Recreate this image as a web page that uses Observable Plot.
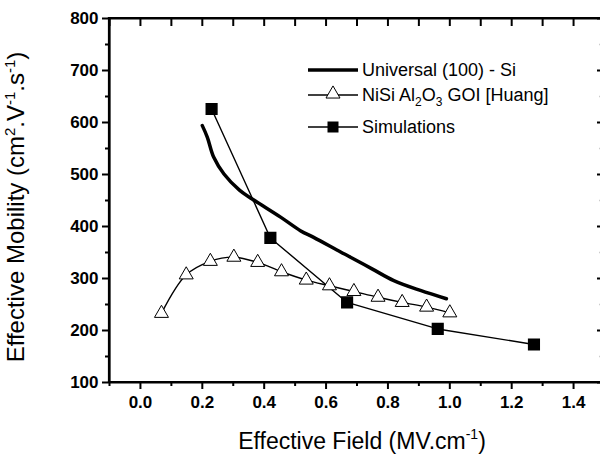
<!DOCTYPE html>
<html>
<head>
<meta charset="utf-8">
<script src="https://cdn.jsdelivr.net/npm/d3@7"></script>
<script src="https://cdn.jsdelivr.net/npm/@observablehq/plot@0.6"></script>
<style>
  html, body { margin: 0; padding: 0; background: #fff; overflow: hidden; }
  #chart { position: relative; width: 600px; height: 468px; overflow: hidden; }
  #chart svg { font-family: "Liberation Sans", Arial, Helvetica, sans-serif; }
  g[aria-label="x-axis tick label"] text, g[aria-label="y-axis tick label"] text { font-weight: bold; }
  #overlay { position: absolute; left: 0; top: 0; pointer-events: none; }
</style>
</head>
<body>
<div id="chart"></div>
<script>
// ---- data ----
const universalField = [0.20, 0.216, 0.237, 0.27, 0.32, 0.361, 0.453, 0.517, 0.56, 0.647, 0.679, 0.75, 0.819, 0.905, 0.989];
const universalMob   = [594, 572, 533, 501, 470, 453, 418, 392, 379, 351, 341, 318, 296, 277, 261];

const huangField = [0.068, 0.148, 0.226, 0.302, 0.379, 0.456, 0.536, 0.611, 0.690, 0.768, 0.846, 0.925, 1.000];
const huangMob   = [233, 307, 333, 341, 331, 313, 297, 286, 275, 264, 254, 245, 234];

const simField = [0.230, 0.420, 0.668, 0.961, 1.272];
const simMob   = [626, 378, 254, 203, 173];

const seriesNames = ["Universal (100) - Si", "NiSi Al2O3 GOI [Huang]", "Simulations"];
const xDomain = [-0.1, 1.5];
const yDomain = [100, 800];
const xTicks = [0.0, 0.2, 0.4, 0.6, 0.8, 1.0, 1.2, 1.4];
const xMinor = [-0.1, 0.1, 0.3, 0.5, 0.7, 0.9, 1.1, 1.3, 1.5];
const yTicks = [100, 200, 300, 400, 500, 600, 700, 800];
const yMinor = [150, 250, 350, 450, 550, 650, 750];

const universal = universalField.map((x, i) => ({x, y: universalMob[i]}));
const huang = huangField.map((x, i) => ({x, y: huangMob[i]}));
const sim = simField.map((x, i) => ({x, y: simMob[i]}));

const font = '"Liberation Sans", Arial, Helvetica, sans-serif';

const plot = Plot.plot({
  width: 600, height: 468, marginLeft: 109, marginRight: -4, marginTop: 18, marginBottom: 86,
  style: {fontFamily: font, background: "white", overflow: "hidden"},
  x: {domain: xDomain}, y: {domain: yDomain},
  marks: [
    Plot.axisX({ticks: xTicks, tickFormat: d3.format(".1f"), tickSize: 7, tickPadding: 6, fontSize: 17, fontWeight: "bold", strokeWidth: 2, color: "black", label: null}),
    Plot.axisX({ticks: xMinor, text: null, tickSize: 4, strokeWidth: 2, label: null}),
    Plot.axisX({anchor: "top", ticks: xTicks.concat(xMinor), text: null, tickSize: -7, strokeWidth: 2, label: null}),
    Plot.axisY({ticks: yTicks, tickSize: 7, tickPadding: 4, fontSize: 17, fontWeight: "bold", strokeWidth: 2, label: null}),
    Plot.axisY({ticks: yMinor, text: null, tickSize: 4, strokeWidth: 2, label: null}),
    Plot.axisY({anchor: "right", ticks: yTicks, text: null, tickSize: -8, strokeWidth: 2, label: null}),
    Plot.axisY({anchor: "right", ticks: yMinor, text: null, tickSize: -6, strokeWidth: 1.5, stroke: "#ccc", label: null}),
    Plot.ruleX([xDomain[0]], {stroke: "black", strokeWidth: 2.2}),
    Plot.ruleY(yDomain, {stroke: "black", strokeWidth: 2.2}),
    Plot.line(universal, {x: "x", y: "y", stroke: "black", strokeWidth: 3.5, curve: "catmull-rom"}),
    Plot.line(huang, {x: "x", y: "y", stroke: "black", strokeWidth: 1.4, curve: "catmull-rom"}),
    Plot.line(sim, {x: "x", y: "y", stroke: "black", strokeWidth: 1.4}),
    Plot.dot(huang, {x: "x", y: "y", symbol: "triangle", r: 5.2, fill: "white", stroke: "black", strokeWidth: 1}),
    Plot.dot(sim, {x: "x", y: "y", symbol: "square", r: 6, fill: "black", stroke: "black"})
  ]
});

const chart = document.getElementById("chart");
chart.appendChild(plot);
d3.select(plot).selectAll('g[aria-label="x-axis tick label"] text, g[aria-label="y-axis tick label"] text')
  .attr("font-weight", "bold");

const sx = plot.scale("x"), sy = plot.scale("y");
const X = v => sx.apply(v), Y = v => sy.apply(v);

// overlay svg for frame lines, axis titles and legend
const ov = d3.select(chart).append("svg")
  .attr("id", "overlay")
  .attr("width", 600).attr("height", 468)
  .attr("font-family", font)
  .attr("fill", "black");

// frame lines from the plot's scales
const fr = ov.append("g").attr("stroke", "black").attr("stroke-width", 2.2).attr("stroke-linecap", "square");
fr.append("line").attr("x1", X(xDomain[0])).attr("x2", X(xDomain[0])).attr("y1", Y(yDomain[0])).attr("y2", Y(yDomain[1]));
fr.append("line").attr("x1", X(xDomain[0])).attr("x2", X(xDomain[1])).attr("y1", Y(yDomain[0])).attr("y2", Y(yDomain[0]));
fr.append("line").attr("x1", X(xDomain[0])).attr("x2", X(xDomain[1])).attr("y1", Y(yDomain[1])).attr("y2", Y(yDomain[1]));

const yt = ov.append("text")
  .attr("transform", "translate(24,207) rotate(-90)")
  .attr("text-anchor", "middle")
  .attr("font-size", 24);
yt.append("tspan").text("Effective Mobility (cm");
yt.append("tspan").text("2").attr("font-size", 15).attr("dy", -9);
yt.append("tspan").text(".V").attr("dy", 9);
yt.append("tspan").text("-1").attr("font-size", 15).attr("dy", -9);
yt.append("tspan").text(".s").attr("dy", 9);
yt.append("tspan").text("-1").attr("font-size", 15).attr("dy", -9);
yt.append("tspan").text(")").attr("dy", 9);

const xt = ov.append("text")
  .attr("x", 362).attr("y", 449)
  .attr("text-anchor", "middle")
  .attr("font-size", 23);
xt.append("tspan").text("Effective Field (MV.cm");
xt.append("tspan").text("-1").attr("font-size", 14).attr("dy", -10);
xt.append("tspan").text(")").attr("dy", 10);

const lg = ov.append("g").attr("font-size", 18).attr("text-anchor", "start");
const rows = [70, 95, 127];
const lx1 = 308, lx2 = 358, tx = 362;
lg.append("line").attr("x1", lx1).attr("x2", lx2).attr("y1", rows[0]).attr("y2", rows[0]).attr("stroke", "black").attr("stroke-width", 3.5);
lg.append("text").attr("x", tx).attr("y", rows[0] + 6).text(seriesNames[0]);
lg.append("line").attr("x1", lx1).attr("x2", lx2).attr("y1", rows[1]).attr("y2", rows[1]).attr("stroke", "black").attr("stroke-width", 1.4);
lg.append("path").attr("d", d3.symbol(d3.symbolTriangle, Math.PI * 5.2 * 5.2)()).attr("transform", `translate(${(lx1 + lx2) / 2},${rows[1] - 1})`).attr("fill", "white").attr("stroke", "black");
const ht = lg.append("text").attr("x", tx).attr("y", rows[1] + 6);
ht.append("tspan").text("NiSi Al");
ht.append("tspan").text("2").attr("font-size", 12).attr("dy", 5);
ht.append("tspan").text("O").attr("dy", -5);
ht.append("tspan").text("3").attr("font-size", 12).attr("dy", 5);
ht.append("tspan").text(" GOI [Huang]").attr("dy", -5);
lg.append("line").attr("x1", lx1).attr("x2", lx2).attr("y1", rows[2]).attr("y2", rows[2]).attr("stroke", "black").attr("stroke-width", 1.4);
lg.append("rect").attr("x", (lx1 + lx2) / 2 - 5.5).attr("y", rows[2] - 5.5).attr("width", 11).attr("height", 11).attr("fill", "black");
lg.append("text").attr("x", tx).attr("y", rows[2] + 6).text(seriesNames[2]);
</script>
</body>
</html>
